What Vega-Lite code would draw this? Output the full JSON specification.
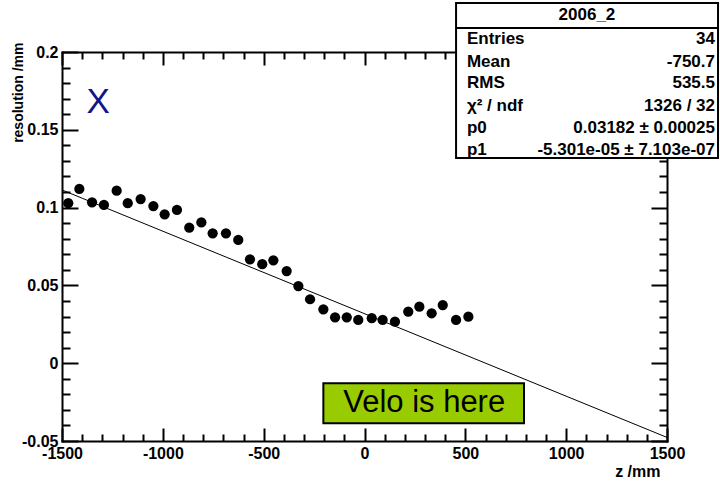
{
  "$schema": "https://vega.github.io/schema/vega-lite/v6.json",
  "width": 605,
  "height": 389,
  "autosize": {"type": "none"},
  "padding": {"left": 62, "top": 52, "right": 53, "bottom": 43},
  "background": "white",
  "config": {
    "view": {"stroke": null},
    "font": "Liberation Sans",
    "axis": {
      "grid": false,
      "domainColor": "black",
      "domainWidth": 2,
      "domainCap": "square",
      "tickColor": "black",
      "tickWidth": 2,
      "labelFont": "Liberation Sans",
      "labelFontWeight": "bold",
      "labelFontSize": 16,
      "labelColor": "black",
      "labelFlush": false,
      "labelOverlap": false,
      "titleFont": "Liberation Sans",
      "titleFontWeight": "bold",
      "titleColor": "black"
    }
  },
  "datasets": {
    "pts": [
      {"z": -1469, "res": 0.1028},
      {"z": -1414, "res": 0.1120},
      {"z": -1351, "res": 0.1034},
      {"z": -1292, "res": 0.1017},
      {"z": -1229, "res": 0.1109},
      {"z": -1174, "res": 0.1028},
      {"z": -1110, "res": 0.1055},
      {"z": -1047, "res": 0.1010},
      {"z": -991, "res": 0.0957},
      {"z": -930, "res": 0.0985},
      {"z": -869, "res": 0.0871},
      {"z": -809, "res": 0.0905},
      {"z": -753, "res": 0.0835},
      {"z": -687, "res": 0.0835},
      {"z": -626, "res": 0.0792},
      {"z": -568, "res": 0.0668},
      {"z": -507, "res": 0.0636},
      {"z": -452, "res": 0.0661},
      {"z": -386, "res": 0.0592},
      {"z": -328, "res": 0.0496},
      {"z": -270, "res": 0.0411},
      {"z": -204, "res": 0.0346},
      {"z": -146, "res": 0.0295},
      {"z": -88, "res": 0.0295},
      {"z": -31, "res": 0.0278},
      {"z": 36, "res": 0.0289},
      {"z": 90, "res": 0.0278},
      {"z": 151, "res": 0.0267},
      {"z": 217, "res": 0.0331},
      {"z": 272, "res": 0.0363},
      {"z": 333, "res": 0.0321},
      {"z": 388, "res": 0.0374},
      {"z": 454, "res": 0.0278},
      {"z": 515, "res": 0.0299}
    ],
    "fit": [
      {"z": -1500, "res": 0.111335},
      {"z": 1500, "res": -0.047695}
    ],
    "tag": [
      {"z": -1321, "res": 0.1608, "label": "X"}
    ],
    "velo": [
      {"z": -204, "z2": 791, "res": -0.0129, "res2": -0.0386, "zc": 296, "resc": -0.0316, "label": "Velo is here"}
    ],
    "statbox": [
      {"z": 454, "z2": 1753, "res": 0.2315, "res2": 0.1319, "sep": 0.2154, "zc": 1103, "resc": 0.2238, "title": "2006_2"}
    ],
    "stats": [
      {"name": "Entries", "value": "34", "res": 0.2084},
      {"name": "Mean", "value": "-750.7", "res": 0.1936},
      {"name": "RMS", "value": "535.5", "res": 0.1801},
      {"name": "χ² / ndf", "value": "1326 / 32", "res": 0.1653},
      {"name": "p0", "value": "0.03182 ± 0.00025", "res": 0.1512},
      {"name": "p1", "value": "-5.301e-05 ± 7.103e-07", "res": 0.1370}
    ]
  },
  "resolve": {"axis": {"x": "independent", "y": "independent"}},
  "layer": [
    {
      "data": {"name": "fit"},
      "mark": {"type": "line", "color": "black", "strokeWidth": 1},
      "encoding": {
        "x": {"field": "z", "type": "quantitative",
          "scale": {"domain": [-1500, 1500], "nice": false, "zero": false},
          "axis": {"orient": "bottom", "values": [-1400, -1300, -1200, -1100, -900, -800, -700, -600, -400, -300, -200, -100, 100, 200, 300, 400, 600, 700, 800, 900, 1100, 1200, 1300, 1400],
            "tickSize": -7, "labels": false, "domain": false, "title": null}},
        "y": {"field": "res", "type": "quantitative",
          "scale": {"domain": [-0.05, 0.2], "nice": false, "zero": false},
          "axis": {"orient": "left", "values": [-0.04, -0.03, -0.02, -0.01, 0.01, 0.02, 0.03, 0.04, 0.06, 0.07, 0.08, 0.09, 0.11, 0.12, 0.13, 0.14, 0.16, 0.17, 0.18, 0.19],
            "tickSize": -8, "labels": false, "domain": false, "title": null}}
      }
    },
    {
      "data": {"name": "pts"},
      "mark": {"type": "circle", "size": 105, "color": "black", "opacity": 1},
      "encoding": {
        "x": {"field": "z", "type": "quantitative",
          "scale": {"domain": [-1500, 1500], "nice": false, "zero": false},
          "axis": {"orient": "bottom", "values": [-1500, -1000, -500, 0, 500, 1000, 1500],
            "labelExpr": "'' + datum.value",
            "tickSize": -13, "labelPadding": 17, "domain": true,
            "title": "z /mm", "titleFontSize": 16, "titleAnchor": "end", "titleX": 598, "titlePadding": 2}},
        "y": {"field": "res", "type": "quantitative",
          "scale": {"domain": [-0.05, 0.2], "nice": false, "zero": false},
          "axis": {"orient": "left", "values": [-0.05, 0, 0.05, 0.1, 0.15, 0.2],
            "labelExpr": "'' + datum.value",
            "tickSize": -16, "labelPadding": 20, "domain": true,
            "title": "resolution /mm", "titleFontSize": 14, "titleAnchor": "end", "titlePadding": -4, "titleY": -10}}
      }
    },
    {
      "data": {"name": "tag"},
      "mark": {"type": "text", "font": "Liberation Sans", "fontSize": 35, "color": "#14148a", "align": "center", "baseline": "alphabetic"},
      "encoding": {
        "text": {"field": "label"},
        "x": {"field": "z", "type": "quantitative",
          "scale": {"domain": [-1500, 1500], "nice": false, "zero": false},
          "axis": {"orient": "top", "values": [-1500, -1000, -500, 0, 500, 1000, 1500],
            "tickSize": -13, "labels": false, "domain": true, "title": null}},
        "y": {"field": "res", "type": "quantitative",
          "scale": {"domain": [-0.05, 0.2], "nice": false, "zero": false},
          "axis": {"orient": "right", "values": [-0.05, 0, 0.05, 0.1, 0.15, 0.2],
            "tickSize": -16, "labels": false, "domain": true, "title": null}}
      }
    },
    {
      "data": {"name": "velo"},
      "mark": {"type": "rect", "fill": "#99cc00", "stroke": "black", "strokeWidth": 2},
      "encoding": {
        "x": {"field": "z", "type": "quantitative",
          "scale": {"domain": [-1500, 1500], "nice": false, "zero": false},
          "axis": {"orient": "top", "values": [-1400, -1300, -1200, -1100, -900, -800, -700, -600, -400, -300, -200, -100, 100, 200, 300, 400, 600, 700, 800, 900, 1100, 1200, 1300, 1400],
            "tickSize": -7, "labels": false, "domain": false, "title": null}},
        "x2": {"field": "z2"},
        "y": {"field": "res", "type": "quantitative",
          "scale": {"domain": [-0.05, 0.2], "nice": false, "zero": false},
          "axis": {"orient": "right", "values": [-0.04, -0.03, -0.02, -0.01, 0.01, 0.02, 0.03, 0.04, 0.06, 0.07, 0.08, 0.09, 0.11, 0.12, 0.13, 0.14, 0.16, 0.17, 0.18, 0.19],
            "tickSize": -8, "labels": false, "domain": false, "title": null}},
        "y2": {"field": "res2"}
      }
    },
    {
      "data": {"name": "velo"},
      "mark": {"type": "text", "font": "Liberation Sans", "fontSize": 31, "color": "black", "align": "center", "baseline": "alphabetic"},
      "encoding": {
        "text": {"field": "label"},
        "x": {"field": "zc", "type": "quantitative", "scale": {"domain": [-1500, 1500], "nice": false, "zero": false}, "axis": null},
        "y": {"field": "resc", "type": "quantitative", "scale": {"domain": [-0.05, 0.2], "nice": false, "zero": false}, "axis": null}
      }
    },
    {
      "data": {"name": "statbox"},
      "mark": {"type": "rect", "fill": "white", "stroke": "black", "strokeWidth": 2},
      "encoding": {
        "x": {"field": "z", "type": "quantitative", "scale": {"domain": [-1500, 1500], "nice": false, "zero": false}, "axis": null},
        "x2": {"field": "z2"},
        "y": {"field": "res", "type": "quantitative", "scale": {"domain": [-0.05, 0.2], "nice": false, "zero": false}, "axis": null},
        "y2": {"field": "res2"}
      }
    },
    {
      "data": {"name": "statbox"},
      "mark": {"type": "rule", "color": "black", "strokeWidth": 2},
      "encoding": {
        "x": {"field": "z", "type": "quantitative", "scale": {"domain": [-1500, 1500], "nice": false, "zero": false}, "axis": null},
        "x2": {"field": "z2"},
        "y": {"field": "sep", "type": "quantitative", "scale": {"domain": [-0.05, 0.2], "nice": false, "zero": false}, "axis": null}
      }
    },
    {
      "data": {"name": "statbox"},
      "mark": {"type": "text", "font": "Liberation Sans", "fontWeight": "bold", "fontSize": 17, "color": "black", "align": "center", "baseline": "middle"},
      "encoding": {
        "text": {"field": "title"},
        "x": {"field": "zc", "type": "quantitative", "scale": {"domain": [-1500, 1500], "nice": false, "zero": false}, "axis": null},
        "y": {"field": "resc", "type": "quantitative", "scale": {"domain": [-0.05, 0.2], "nice": false, "zero": false}, "axis": null}
      }
    },
    {
      "data": {"name": "stats"},
      "mark": {"type": "text", "font": "Liberation Sans", "fontWeight": "bold", "fontSize": 17, "color": "black", "align": "left", "baseline": "middle"},
      "encoding": {
        "text": {"field": "name"},
        "x": {"datum": 508, "type": "quantitative", "scale": {"domain": [-1500, 1500], "nice": false, "zero": false}, "axis": null},
        "y": {"field": "res", "type": "quantitative", "scale": {"domain": [-0.05, 0.2], "nice": false, "zero": false}, "axis": null}
      }
    },
    {
      "data": {"name": "stats"},
      "mark": {"type": "text", "font": "Liberation Sans", "fontWeight": "bold", "fontSize": 17, "color": "black", "align": "right", "baseline": "middle"},
      "encoding": {
        "text": {"field": "value"},
        "x": {"datum": 1738, "type": "quantitative", "scale": {"domain": [-1500, 1500], "nice": false, "zero": false}, "axis": null},
        "y": {"field": "res", "type": "quantitative", "scale": {"domain": [-0.05, 0.2], "nice": false, "zero": false}, "axis": null}
      }
    }
  ]
}
